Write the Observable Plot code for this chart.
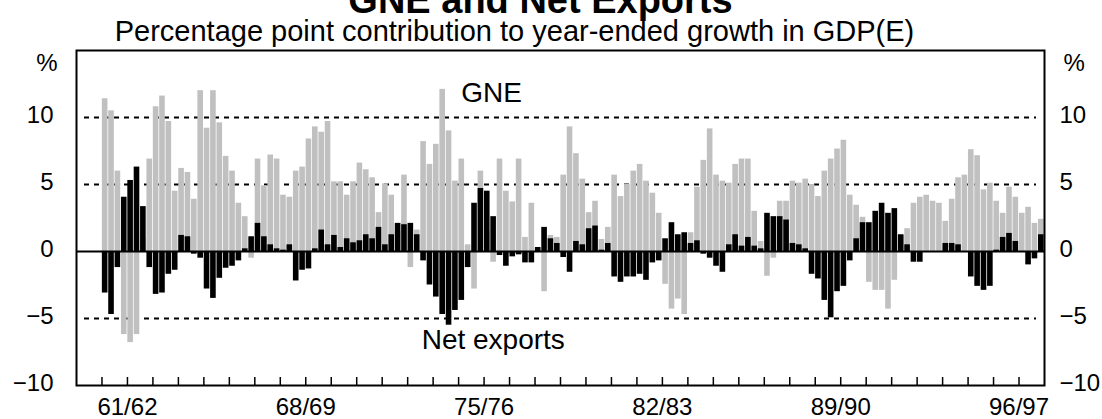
<!DOCTYPE html>
<html>
<head>
<meta charset="utf-8">
<script src="https://cdn.jsdelivr.net/npm/d3@7"></script>
<script src="https://cdn.jsdelivr.net/npm/@observablehq/plot@0.6"></script>
<style>
  body { margin: 0; background: #fff; }
  #chart svg { display: block; }
</style>
</head>
<body>
<div id="chart"></div>
<script>
// Quarterly data, Sep quarter 1960 (index 0) to Jun quarter 1997 (index 147)
const gne = [
  11.4, 10.5, 6.0, -6.2, -6.8, -6.2, 1.0, 6.9, 10.8, 11.6,
  9.7, 4.5, 6.2, 5.9, 3.9, 12.0, 9.2, 12.0, 9.6, 7.1,
  6.0, 3.6, 2.6, -0.5, 6.9, 4.9, 7.2, 6.9, 4.2, 4.05,
  6.0, 6.3, 8.4, 9.3, 8.9, 9.7, 5.2, 5.2, 4.2, 5.2,
  6.6, 6.1, 5.5, 2.9, 5.05, 4.2, 1.5, 5.7, -1.2, 1.6,
  8.2, 6.5, 8.0, 12.1, 9.0, 5.25, 6.9, 0.5, -2.8, 6.0,
  1.5, -0.8, 6.9, 4.5, 3.7, 6.9, 1.05, 3.6, 0.2, -3.0,
  1.2, 1.05, 5.7, 9.3, 7.3, 5.4, 2.9, 3.75, 0.9, 1.8,
  5.7, 4.1, 5.0, 6.0, 6.5, 5.25, 4.35, 2.85, -2.45, -4.3,
  -3.55, -4.7, 1.4, 4.8, 6.8, 9.15, 5.7, 5.25, 5.1, 6.5,
  6.9, 6.9, 3.0, 0.75, -1.85, -0.5, 3.75, 3.75, 5.25, 5.1,
  5.4, 5.0, 4.1, 6.0, 6.9, 7.65, 8.3, 4.2, 3.45, 2.55,
  -2.3, -2.9, -2.9, -4.3, -2.15, 1.2, 1.7, 3.6, 4.05, 4.2,
  3.75, 3.6, 2.25, 3.9, 5.5, 5.7, 7.6, 7.15, 4.6, 5.1,
  3.75, 2.85, 4.8, 4.05, 2.85, 3.3, 2.1, 2.4
];
const netExports = [
  -3.1, -4.7, -1.2, 4.05, 5.3, 6.3, 3.35, -1.2, -3.2, -3.1,
  -1.7, -1.4, 1.2, 1.1, -0.2, -0.5, -2.8, -3.5, -2.0, -1.25,
  -1.1, -0.7, 0.2, 1.1, 2.1, 1.1, 0.5, 0.2, 0.1, 0.5,
  -2.2, -1.4, -1.3, 0.2, 1.6, 0.5, 1.2, 0.3, 0.95, 0.65,
  0.8, 1.25, 0.95, 1.8, 0.5, 1.25, 2.1, 2.0, 2.1, 1.25,
  -0.7, -2.5, -3.4, -4.7, -5.5, -4.4, -3.65, -1.2, 3.6, 4.7,
  4.5, 2.6, -0.3, -1.1, -0.4, -0.25, -0.85, -0.85, 0.3, 1.8,
  0.95, 0.6, -0.45, -1.55, 0.75, 0.5, 1.7, 1.9, 0.1, 0.6,
  -1.9, -2.3, -1.9, -1.9, -1.7, -2.15, -0.85, -0.7, 0.95, 2.15,
  1.25, 1.4, 0.6, 0.8, -0.2, -0.5, -1.1, -1.55, 0.5, 1.25,
  0.4, 1.05, 0.4, 0.2, 2.85, 2.6, 2.6, 2.35, 0.6, 0.5,
  0.2, -1.7, -2.05, -3.65, -4.95, -3.0, -2.6, -0.7, 0.95, 2.15,
  2.15, 3.0, 3.6, 2.85, 3.2, 1.25, 0.5, -0.8, -0.8, 0.0,
  0.0, 0.0, 0.6, 0.6, 0.5, 0.0, -1.9, -2.6, -2.9, -2.6,
  0.1, 1.05, 1.35, 0.75, 0.0, -1.0, -0.55, 1.25
];
const yearLabels = ["61/62", "68/69", "75/76", "82/83", "89/90", "96/97"];
const yTicks = [-10, -5, 0, 5, 10];
const gridValues = [10, 5, -5];
const titleText = "GNE and Net Exports";
const subtitleText = "Percentage point contribution to year-ended growth in GDP(E)";
const unitText = "%";
const seriesNotes = [
  {text: "GNE", q: 55.9, v: 11.8},
  {text: "Net exports", q: 49.7, v: -6.6}
];

const data = gne.map((g, i) => ({q: i, gne: g, nx: netExports[i]}));
const labelQ = yearLabels.map((_, i) => 3.5 + 28 * i);
const labelMap = new Map(labelQ.map((q, i) => [q, yearLabels[i]]));
const yearBoundaries = d3.range(-0.5, 147, 4);
const font = "'Liberation Sans', Arial, sans-serif";

const W = 1102, H = 419, mT = 50, mB = 34, mL = 76, mR = 58;
const frameH = H - mT - mB;

const chart = Plot.plot({
  width: W,
  height: H,
  marginTop: mT,
  marginBottom: mB,
  marginLeft: mL,
  marginRight: mR,
  style: {fontFamily: font, background: "#fff", color: "#000", overflow: "visible"},
  x: {domain: [-4.5, 147.5], label: null},
  y: {domain: [-10, 15], label: null},
  marks: [
    Plot.ruleY(gridValues, {stroke: "#000", strokeWidth: 2, strokeDasharray: "5,5", insetLeft: 8, insetRight: 8}),
    Plot.rectY(data, {x1: d => d.q - 0.44, x2: d => d.q + 0.44, y: "gne", fill: "#c0c0c0"}),
    Plot.rectY(data, {x1: d => d.q - 0.44, x2: d => d.q + 0.44, y: "nx", fill: "#000"}),
    Plot.ruleY([0], {stroke: "#000", strokeWidth: 2}),
    Plot.tickX(yearBoundaries, {x: d => d, stroke: "#000", strokeWidth: 1.5, insetTop: frameH - 8}),
    Plot.frame({stroke: "#000", strokeWidth: 2}),
    Plot.axisY(yTicks, {anchor: "left", tickSize: 0, tickPadding: 23, fontSize: 24, dy: -2, label: null}),
    Plot.axisY(yTicks, {anchor: "right", tickSize: 0, tickPadding: 15, fontSize: 24, dy: -2, label: null}),
    Plot.axisX(labelQ, {anchor: "bottom", tickSize: 0, tickPadding: 12, fontSize: 24, tickFormat: d => labelMap.get(d), label: null}),
    Plot.text([unitText], {frameAnchor: "top-left", lineAnchor: "middle", textAnchor: "end", dx: -19, dy: 13, fontSize: 24}),
    Plot.text([unitText], {frameAnchor: "top-right", lineAnchor: "middle", textAnchor: "start", dx: 19, dy: 13, fontSize: 24}),
    Plot.text(seriesNotes, {x: "q", y: "v", text: "text", textAnchor: "start", lineAnchor: "middle", fontSize: 28}),
    Plot.text([titleText], {frameAnchor: "top", lineAnchor: "middle", dx: -20, dy: -50, fontSize: 38, fontWeight: "bold"}),
    Plot.text([subtitleText], {frameAnchor: "top", lineAnchor: "middle", dx: -46, dy: -19, fontSize: 29})
  ]
});
document.getElementById("chart").appendChild(chart);
</script>
</body>
</html>
